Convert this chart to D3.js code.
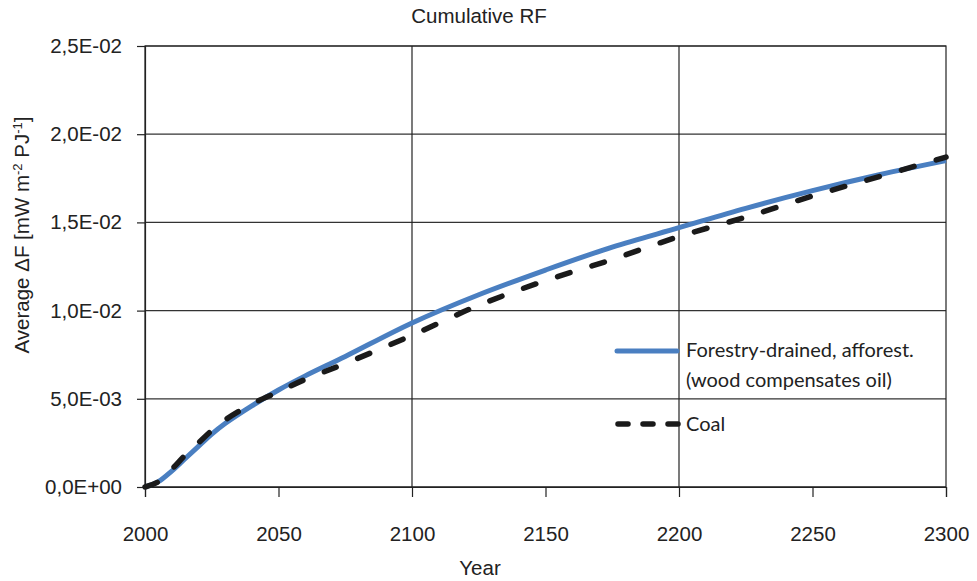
<!DOCTYPE html>
<html><head><meta charset="utf-8">
<script src="https://cdn.jsdelivr.net/npm/d3@7"></script>
<style>body{margin:0;background:#fff}svg{display:block}</style>
</head><body><svg id="c" width="977" height="581"></svg>
<script>
const years = [2000,2005,2010,2015,2020,2025,2030,2040,2050,2060,2075,2100,2125,2150,2175,2200,2225,2250,2275,2300];
const forestry = [0,0.0003,0.0009,0.0016,0.0023,0.0030,0.0036,0.0046,0.0055,0.0063,0.0074,0.0093,0.0109,0.0123,0.0136,0.0147,0.0158,0.0168,0.0177,0.0185];
const coal = [0,0.0003,0.0010,0.0018,0.0025,0.0032,0.0038,0.0047,0.0054,0.0061,0.0070,0.0086,0.0103,0.0117,0.0129,0.0142,0.0153,0.0165,0.0176,0.0187];
const xTicks = [2000,2050,2100,2150,2200,2250,2300];
const yTicks = [0,0.005,0.01,0.015,0.02,0.025];
const yTickLabels = ["0,0E+00","5,0E-03","1,0E-02","1,5E-02","2,0E-02","2,5E-02"];
const vGrid = [2100,2200];
const seriesNames = ["Forestry-drained, afforest.","(wood compensates oil)","Coal"];

const svg = d3.select("#c");
const L=145, R=946, T=46, B=487;
const x = d3.scaleLinear().domain([2000,2300]).range([L,R]);
const y = d3.scaleLinear().domain([0,0.025]).range([B,T]);
const font = "'Liberation Sans', Arial, sans-serif";
const fs = 20.5;

// grid
svg.append("g").selectAll("line").data(yTicks).join("line")
  .attr("x1",L).attr("x2",R).attr("y1",d=>y(d)).attr("y2",d=>y(d))
  .attr("stroke","#333").attr("stroke-width",1.2);
svg.append("g").selectAll("line").data(vGrid).join("line")
  .attr("x1",d=>x(d)).attr("x2",d=>x(d)).attr("y1",T).attr("y2",B)
  .attr("stroke","#222").attr("stroke-width",1.2);
// frame
svg.append("rect").attr("x",L).attr("y",T).attr("width",R-L).attr("height",B-T)
  .attr("fill","none").attr("stroke","#222").attr("stroke-width",1.2);

// axes
const yAxis = d3.axisLeft(y).tickValues(yTicks).tickSize(8).tickFormat((d,i)=>yTickLabels[i]).tickPadding(15);
const gy = svg.append("g").attr("transform",`translate(${L},0)`).call(yAxis);
const xAxis = d3.axisBottom(x).tickValues(xTicks).tickSize(10).tickFormat(d3.format("d")).tickPadding(29);
const gx = svg.append("g").attr("transform",`translate(0,${B})`).call(xAxis);
[gx,gy].forEach(g=>{
  g.select(".domain").attr("stroke","#222").attr("stroke-width",1.2);
  g.selectAll(".tick line").attr("stroke","#222").attr("stroke-width",1.2);
  g.selectAll("text").attr("font-family",font).attr("font-size",fs).attr("fill","#222");
});

// lines
const line = d3.line().x((d,i)=>x(years[i])).y(d=>y(d)).curve(d3.curveCatmullRom);
svg.append("path").datum(forestry).attr("d",line).attr("fill","none")
  .attr("stroke","#4a7fc1").attr("stroke-width",5);
svg.append("path").datum(coal).attr("d",line).attr("fill","none")
  .attr("stroke","#1a1a1a").attr("stroke-width",5.5).attr("stroke-linecap","round")
  .attr("stroke-dasharray","13,23");

// title and labels
svg.append("text").attr("x",479).attr("y",23).attr("text-anchor","middle")
  .attr("font-family",font).attr("font-size",fs).attr("fill","#222").text("Cumulative RF");
svg.append("text").attr("x",480).attr("y",575).attr("text-anchor","middle")
  .attr("font-family",font).attr("font-size",fs).attr("fill","#222").text("Year");
const yl = svg.append("text").attr("transform","translate(29,235) rotate(-90)").attr("text-anchor","middle")
  .attr("font-family",font).attr("font-size",fs).attr("fill","#222");
yl.append("tspan").text("Average ΔF [mW m");
yl.append("tspan").attr("baseline-shift","super").attr("font-size",13).text("-2");
yl.append("tspan").text(" PJ");
yl.append("tspan").attr("baseline-shift","super").attr("font-size",13).text("-1");
yl.append("tspan").text("]");

// legend
const lf = "Lato, 'Open Sans', sans-serif";
const lfs = 20;
svg.append("line").attr("x1",617).attr("x2",677).attr("y1",351).attr("y2",351)
  .attr("stroke","#4a7fc1").attr("stroke-width",5).attr("stroke-linecap","round");
svg.append("line").attr("x1",618).attr("x2",678).attr("y1",424).attr("y2",424)
  .attr("stroke","#1a1a1a").attr("stroke-width",5.5).attr("stroke-linecap","round")
  .attr("stroke-dasharray","10,15");
svg.append("text").attr("x",686).attr("y",357).attr("font-family",lf).attr("font-size",lfs).attr("fill","#222").text(seriesNames[0]);
svg.append("text").attr("x",686).attr("y",387).attr("font-family",lf).attr("font-size",lfs).attr("fill","#222").text(seriesNames[1]);
svg.append("text").attr("x",686).attr("y",431).attr("font-family",lf).attr("font-size",lfs).attr("fill","#222").text(seriesNames[2]);
</script></body></html>
